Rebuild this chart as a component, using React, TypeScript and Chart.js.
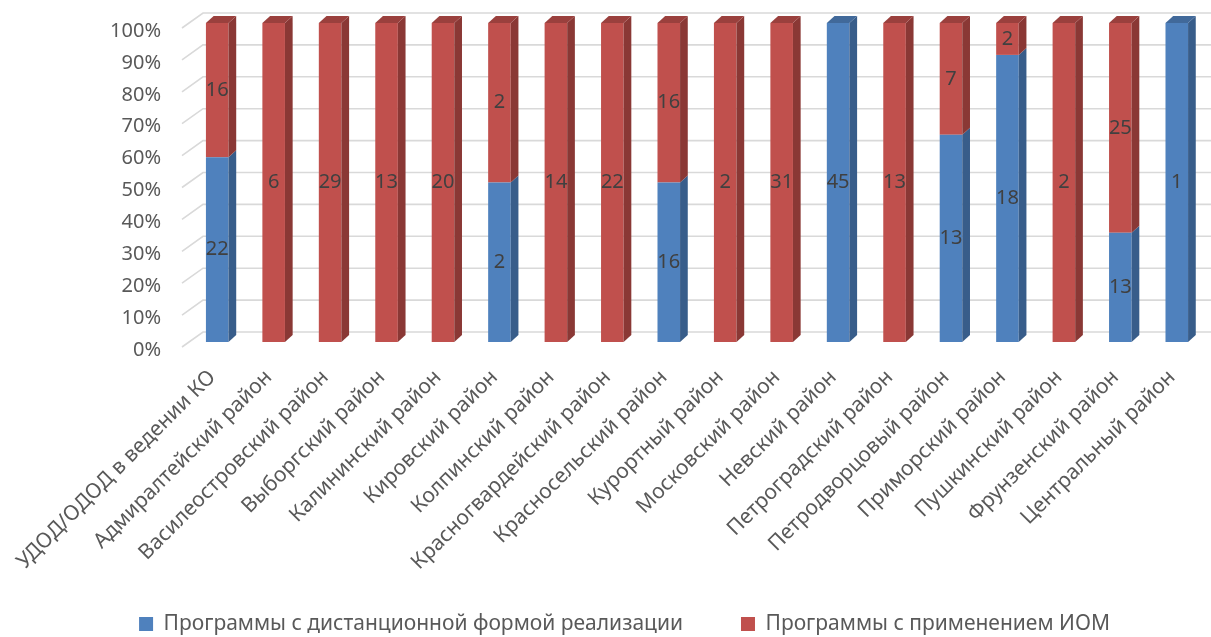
import React, { useEffect, useRef } from 'react';
import { Chart, registerables } from 'chart.js';

Chart.register(...registerables);

const categories = [
  'УДОД/ОДОД в ведении КО',
  'Адмиралтейский район',
  'Василеостровский район',
  'Выборгский район',
  'Калининский район',
  'Кировский район',
  'Колпинский район',
  'Красногвардейский район',
  'Красносельский район',
  'Курортный район',
  'Московский район',
  'Невский район',
  'Петроградский район',
  'Петродворцовый район',
  'Приморский район',
  'Пушкинский район',
  'Фрунзенский район',
  'Центральный район',
];

const remoteCounts = [22, 0, 0, 0, 0, 2, 0, 0, 16, 0, 0, 45, 0, 13, 18, 0, 13, 1];
const iomCounts = [16, 6, 29, 13, 20, 2, 14, 22, 16, 2, 31, 0, 13, 7, 2, 2, 25, 0];

const seriesNames = [
  'Программы с дистанционной формой реализации',
  'Программы с применением ИОМ',
];

const yTicks = [0, 10, 20, 30, 40, 50, 60, 70, 80, 90, 100];

const FONT = '"Noto Sans", "Open Sans", sans-serif';
const FRONT = ['#4F81BD', '#C0504D'];
const SIDE = ['#385D8A', '#8A3835'];
const TOP = ['#41699A', '#9A403D'];

const counts = [remoteCounts, iomCounts];
const totals = categories.map((_, i) => remoteCounts[i] + iomCounts[i]);
const pct = (arr: number[]) => arr.map((v, i) => (totals[i] ? (v / totals[i]) * 100 : 0));

const DEPTH_X = 7.7;
const DEPTH_Y = 7;
const LEGEND_FONT = 21;

const threeD = {
  id: 'threeD',
  beforeDatasetsDraw(chart: any) {
    const ctx = chart.ctx;
    const ys = chart.scales.y;
    const area = chart.chartArea;
    ctx.save();
    ctx.strokeStyle = '#d9d9d9';
    ctx.lineWidth = 1.6;
    yTicks.forEach((v) => {
      const yb = ys.getPixelForValue(v);
      ctx.beginPath();
      ctx.moveTo(area.left - 7, yb + 5);
      ctx.lineTo(area.left + 14, yb - 10);
      ctx.lineTo(chart.width, yb - 10);
      ctx.stroke();
    });
    ctx.restore();
  },
  afterDatasetsDraw(chart: any) {
    const ctx = chart.ctx;
    ctx.save();
    categories.forEach((_, j) => {
      let topIdx = -1;
      counts.forEach((c, i) => {
        if (c[j] > 0) topIdx = i;
      });
      counts.forEach((c, i) => {
        if (!(c[j] > 0)) return;
        const el = chart.getDatasetMeta(i).data[j];
        const left = el.x - el.width / 2;
        const right = el.x + el.width / 2;
        const top = el.y;
        const bottom = el.base;
        ctx.fillStyle = SIDE[i];
        ctx.beginPath();
        ctx.moveTo(right, top);
        ctx.lineTo(right + DEPTH_X, top - DEPTH_Y);
        ctx.lineTo(right + DEPTH_X, bottom - DEPTH_Y);
        ctx.lineTo(right, bottom);
        ctx.closePath();
        ctx.fill();
        if (i === topIdx) {
          ctx.fillStyle = TOP[i];
          ctx.beginPath();
          ctx.moveTo(left, top);
          ctx.lineTo(left + DEPTH_X, top - DEPTH_Y);
          ctx.lineTo(right + DEPTH_X, top - DEPTH_Y);
          ctx.lineTo(right, top);
          ctx.closePath();
          ctx.fill();
        }
      });
    });
    ctx.fillStyle = '#404040';
    ctx.font = `20px ${FONT}`;
    ctx.textAlign = 'center';
    ctx.textBaseline = 'middle';
    counts.forEach((c, i) => {
      const meta = chart.getDatasetMeta(i);
      c.forEach((v, j) => {
        if (!(v > 0)) return;
        const el = meta.data[j];
        ctx.fillText(String(v), el.x, (el.y + el.base) / 2);
      });
    });
    ctx.restore();
  },
};

const LEGEND_CENTER_Y = 626;
const LEGEND_DX = 22;

const layoutTweak = {
  id: 'layoutTweak',
  afterLayout(chart: any) {
    const l = chart.legend;
    if (l) {
      const pad = l.options.labels.padding;
      const lh = LEGEND_FONT * 1.2;
      const dy = LEGEND_CENTER_Y - (l.top + pad + lh / 2);
      l.top += dy;
      l.bottom += dy;
      l.left += LEGEND_DX;
      l.right += LEGEND_DX;
    }
    const xs = chart.scales.x;
    if (xs) xs.bottom = chart.height;
  },
};

export default function App() {
  const ref = useRef<HTMLCanvasElement | null>(null);

  useEffect(() => {
    if (!ref.current) return;
    const chart = new Chart(ref.current, {
      type: 'bar',
      data: {
        labels: categories,
        datasets: [
          {
            label: seriesNames[0],
            data: pct(remoteCounts),
            backgroundColor: FRONT[0],
            borderWidth: 0,
            categoryPercentage: 1,
            barPercentage: 0.4,
          },
          {
            label: seriesNames[1],
            data: pct(iomCounts),
            backgroundColor: FRONT[1],
            borderWidth: 0,
            categoryPercentage: 1,
            barPercentage: 0.4,
          },
        ],
      },
      options: {
        responsive: true,
        maintainAspectRatio: false,
        animation: false,
        layout: { padding: { top: 23, right: 6, left: 0, bottom: 0 } },
        plugins: {
          tooltip: { enabled: false },
          legend: {
            position: 'bottom',
            labels: {
              boxWidth: 14,
              boxHeight: 14,
              padding: 58,
              color: '#595959',
              font: { family: FONT, size: LEGEND_FONT },
            },
          },
        },
        scales: {
          x: {
            stacked: true,
            grid: { display: false, drawTicks: false, tickLength: 0 },
            border: { display: false },
            ticks: {
              minRotation: 45,
              maxRotation: 45,
              autoSkip: false,
              padding: 23,
              labelOffset: -5,
              color: '#595959',
              font: { family: FONT, size: 21 },
            },
            afterFit(scale: any) {
              const lh = scale.chart.legend ? scale.chart.legend.height : 0;
              scale.height = Math.max(10, scale.chart.height - 342 - lh);
              scale.paddingLeft = 0;
              scale.paddingRight = 0;
            },
          },
          y: {
            stacked: true,
            min: 0,
            max: 100,
            grid: { display: false, drawTicks: false, tickLength: 0 },
            border: { display: false },
            ticks: {
              stepSize: 10,
              padding: 28,
              labelOffset: 8,
              color: '#595959',
              font: { family: FONT, size: 20 },
              callback: (v: any) => `${v}%`,
            },
            afterFit(scale: any) {
              scale.width = 189;
              scale.paddingTop = 0;
              scale.paddingBottom = 0;
            },
          },
        },
      },
      plugins: [threeD, layoutTweak],
    } as any);
    return () => chart.destroy();
  }, []);

  return (
    <div style={{ position: 'fixed', left: 0, top: 0, width: 1211, height: 637 }}>
      <canvas ref={ref} />
    </div>
  );
}
